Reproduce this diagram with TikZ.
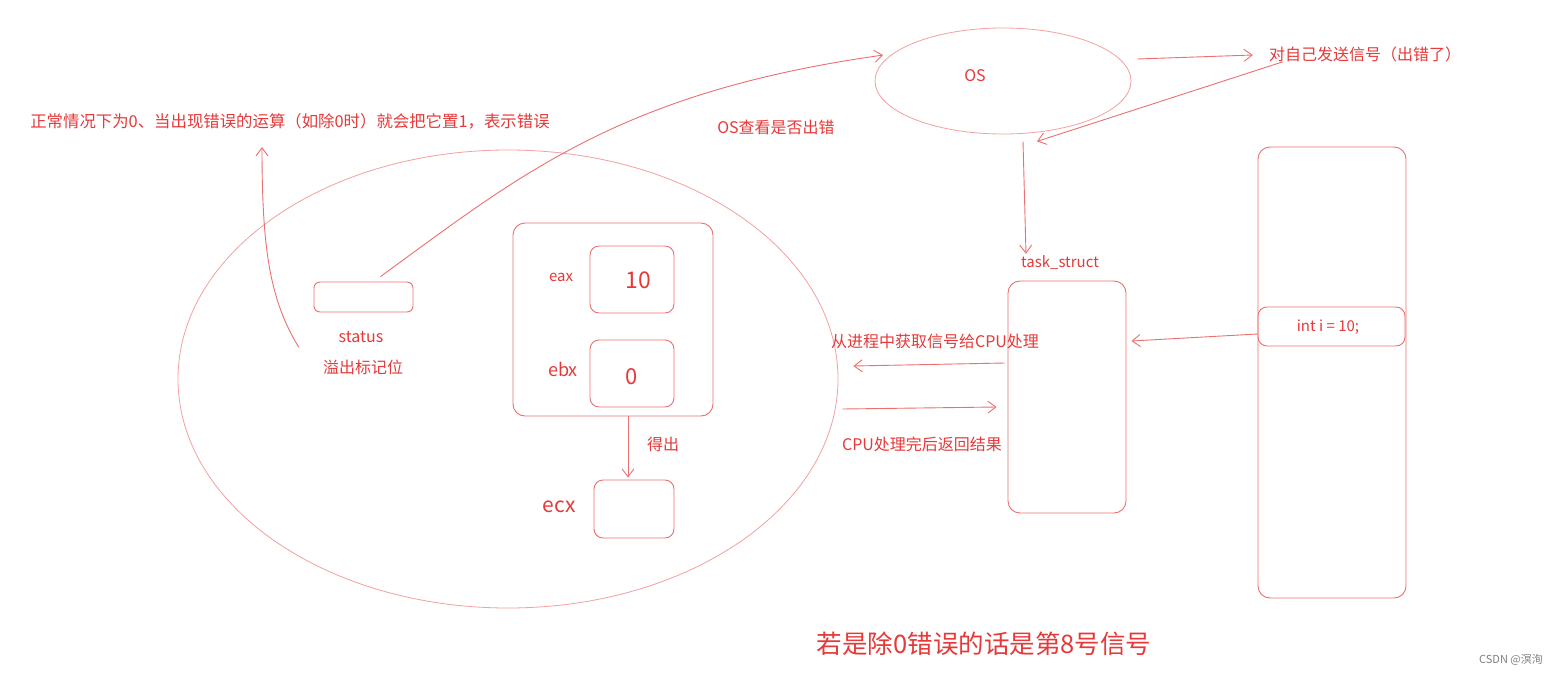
\documentclass[tikz,border=0pt]{standalone}
\usepackage{fontspec}
\setmainfont{Noto Sans CJK SC}
\usetikzlibrary{positioning, arrows.meta, shapes.geometric}
\definecolor{txtred}{RGB}{230,57,57}
\definecolor{linered}{RGB}{236,112,112}
\definecolor{palered}{RGB}{243,160,160}
\newcommand\fsz[1]{\fontsize{#1}{#1}\selectfont}

\begin{document}
\begin{tikzpicture}[x=1pt, y=-1pt,
  every node/.style={text=txtred, font=\fsz{16}, inner sep=2pt},
  box/.style={draw=linered, line width=0.9pt, rounded corners=9pt, inner sep=0pt},
  oval/.style={draw=palered, line width=0.8pt, ellipse, inner sep=0pt},
  arr/.style={draw=linered, line width=0.9pt, -{Straight Barb[length=8pt, width=12pt]}}]
\useasboundingbox[fill=white] (0,0) rectangle (1559,675);

\node[oval, minimum width=660, minimum height=458] (cpu) at (508,379) {};
\node[oval, minimum width=256, minimum height=106] (os) at (1003,81) {};
\node at (975,76) {OS};

\node[font=\fsz{16.4}] (topnote) at (290,121) {正常情况下为0、当出现错误的运算（如除0时）就会把它置1，表示错误};
\node[box, minimum width=99, minimum height=30, rounded corners=6pt] (status) at (363.5,297) {};
\node (statuslbl) at (361,337) {status};
\node (overflow) at (363,367) {溢出标记位};

\node[box, minimum width=200, minimum height=193, rounded corners=12pt] (regs) at (613,319.5) {};
\node[box, minimum width=84, minimum height=67] (eax) at (632,279.5) {};
\node[font=\fsz{23}] at (638,280) {10};
\node[font=\fsz{15}] at (561,277) {eax};
\node[box, minimum width=84, minimum height=67] (ebx) at (632,373.5) {};
\node[font=\fsz{22}] at (632,377) {0};
\node[font=\fsz{18}] at (563,369) {ebx};
\node[box, minimum width=80, minimum height=58] (ecx) at (634,509) {};
\node[font=\fsz{21}] at (559,507) {ecx};
\node (getlbl) at (663,444) {得出};

\node[box, minimum width=118, minimum height=232, rounded corners=12pt] (task) at (1067,397) {};
\node[font=\fsz{15}] (tasklbl) at (1060,263) {task\_struct};
\node[box, minimum width=148, minimum height=451, rounded corners=12pt] (mem) at (1332,372.5) {};
\node[box, minimum width=147, minimum height=39] (intbox) at (1331.5,326.5) {};
\node[font=\fsz{15}] at (1328,327) {int i = 10;};

\node (selfsig) at (1365,54) {对自己发送信号（出错了）};
\node (checklbl) at (776,127) {OS查看是否出错};
\node (fetchlbl) at (935,341) {从进程中获取信号给CPU处理};
\node (retlbl) at (922,444) {CPU处理完后返回结果};
\node[font=\fsz{25.5}] (note8) at (984,644) {若是除0错误的话是第8号信号};
\node[font=\fsz{11}, text=gray] (mark) at (1511,660) {CSDN @溟洵};

\draw[arr] ([shift={(-22,-10)}]overflow.north west) .. controls (270,300) and (262,250) .. ([shift={(-28,16)}]topnote.south);
\draw[arr] ([shift={(17,-5)}]status.north) .. controls (520,175) and (620,92) .. ([shift={(-12,3)}]os.165);
\draw[arr] ([shift={(15,0)}]regs.south) -- ([shift={(-6,-2)}]ecx.north);
\draw[arr] ([shift={(6,-22)}]os.east) -- ([shift={(-14,1)}]selfsig.west);
\draw[arr] ([shift={(16,-2)}]selfsig.south west) -- ([shift={(34,7)}]os.south);
\draw[arr] ([shift={(20,7)}]os.south) -- ([shift={(-34,0)}]tasklbl.north);
\draw[arr] ([shift={(0,7.5)}]intbox.west) -- ([shift={(5,-56)}]task.east);
\draw[arr] ([shift={(-3,-34)}]task.west) -- ([shift={(15,-13)}]cpu.east);
\draw[arr] ([shift={(4,30)}]cpu.east) -- ([shift={(-11,10)}]task.west);
\end{tikzpicture}
\end{document}
